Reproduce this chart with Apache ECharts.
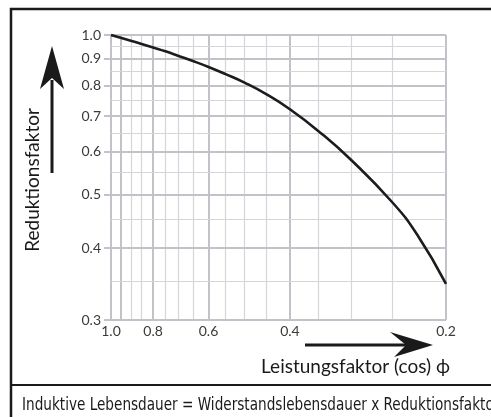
<!DOCTYPE html>
<html>
<head>
<meta charset="utf-8">
<script src="https://cdn.jsdelivr.net/npm/echarts@6/dist/echarts.min.js"></script>
<style>
  html, body { margin: 0; padding: 0; background: #fff; }
  #chart { width: 491px; height: 417px; }
</style>
</head>
<body>
<div id="chart"></div>
<script>
// Leistungsfaktor (cos phi) and Reduktionsfaktor
const cosPhi = [1.0, 0.95, 0.9, 0.85, 0.8, 0.75, 0.7, 0.65, 0.6, 0.55, 0.5, 0.45, 0.4, 0.35, 0.3, 0.25, 0.225, 0.2];
const reduktion = [1.0, 0.988, 0.975, 0.961, 0.946, 0.93, 0.911, 0.891, 0.868, 0.841, 0.81, 0.771, 0.721, 0.657, 0.579, 0.484, 0.423, 0.346];

// grid lines and labels
const xGrid = [1.0, 0.95, 0.9, 0.85, 0.8, 0.75, 0.7, 0.65, 0.6, 0.55, 0.5, 0.45, 0.4, 0.35, 0.3, 0.25, 0.2];
const xMajor = [1.0, 0.95, 0.8, 0.6, 0.4, 0.2];
const xLabels = ['1.0', '0.8', '0.6', '0.4', '0.2'];
const yGrid = [1.0, 0.95, 0.9, 0.85, 0.8, 0.75, 0.7, 0.65, 0.6, 0.55, 0.5, 0.45, 0.4, 0.35, 0.3];
const yLabels = ['1.0', '0.9', '0.8', '0.7', '0.6', '0.5', '0.4', '0.3'];

// the printed paper uses offset log scales
const XS = 0.06;
const YS = 0.05;

const chart = echarts.init(document.getElementById('chart'), null, { renderer: 'canvas' });

const minorLine = { color: '#d6d6da', width: 1.2, type: 'solid' };
const majorLine = { color: '#c2c2c8', width: 2, type: 'solid' };
const labelFont = { fontFamily: 'Lato', fontSize: 14, color: '#3a3a3a' };

function isLabelled(v, list) {
    return list.includes(v.toFixed(1)) && Math.abs(v * 10 - Math.round(v * 10)) < 1e-9;
}

const gridLines = [];
xGrid.forEach(v => {
    const lab = isLabelled(v, xLabels);
    gridLines.push({
        xAxis: v - XS,
        lineStyle: xMajor.includes(v) ? majorLine : minorLine,
        label: lab ? Object.assign({ show: true, position: 'start', distance: 4, formatter: v.toFixed(1) }, labelFont) : { show: false }
    });
});
yGrid.forEach(v => {
    const lab = isLabelled(v, yLabels);
    gridLines.push({
        yAxis: v - YS,
        lineStyle: lab ? majorLine : minorLine,
        // x axis is inverted, so the line "end" is on the left
        label: lab ? Object.assign({ show: true, position: 'end', distance: 10, formatter: v.toFixed(1) }, labelFont) : { show: false }
    });
});

const option = {
    animation: false,
    backgroundColor: '#fff',
    grid: { left: 111, top: 35, right: 45, bottom: 97 },
    xAxis: {
        type: 'log',
        inverse: true,
        min: 0.2 - XS,
        max: 1.0 - XS,
        axisLine: { show: false },
        axisTick: { show: false },
        axisLabel: { show: false },
        splitLine: { show: false }
    },
    yAxis: {
        type: 'log',
        min: 0.3 - YS,
        max: 1.0 - YS,
        axisLine: { show: false },
        axisTick: {
            show: true,
            length: 7,
            customValues: yLabels.map(t => Number(t) - YS),
            lineStyle: { color: '#c2c2c8', width: 2 }
        },
        axisLabel: { show: false },
        splitLine: { show: false }
    },
    series: [
        {
            type: 'line',
            z: 1,
            data: [],
            markLine: {
                silent: true,
                symbol: 'none',
                animation: false,
                data: gridLines
            }
        },
        {
            type: 'line',
            z: 5,
            smooth: 0.5,
            symbol: 'none',
            lineStyle: { color: '#1c1c1c', width: 2.6 },
            data: cosPhi.map((c, i) => [c - XS, reduktion[i] - YS])
        }
    ],
    graphic: [
        {
            type: 'rect',
            shape: { x: 11, y: 9, width: 520, height: 450 },
            style: { fill: 'none', stroke: '#1a1a1a', lineWidth: 2.5 }
        },
        {
            type: 'line',
            shape: { x1: 11, y1: 385, x2: 491, y2: 385 },
            style: { stroke: '#1a1a1a', lineWidth: 2 }
        },
        {
            type: 'text',
            x: 22, y: 406,
            scaleX: 0.89,
            style: {
                text: 'Induktive Lebensdauer = Widerstandslebensdauer x Reduktionsfaktor',
                fontFamily: '"DejaVu Sans Condensed", sans-serif',
                fontSize: 17, fill: '#1a1a1a', verticalAlign: 'middle', align: 'left'
            }
        },
        {
            type: 'text',
            x: 33, y: 180,
            rotation: Math.PI / 2,
            style: {
                text: 'Reduktionsfaktor',
                fontFamily: 'Lato', fontSize: 19, fill: '#1a1a1a',
                align: 'center', verticalAlign: 'middle'
            }
        },
        {
            type: 'text',
            x: 450, y: 367,
            style: {
                text: 'Leistungsfaktor (cos) ϕ',
                fontFamily: 'Lato', fontSize: 19, fill: '#1a1a1a',
                align: 'right', verticalAlign: 'middle'
            }
        },
        // up arrow
        {
            type: 'line',
            shape: { x1: 52, y1: 173, x2: 52, y2: 80 },
            style: { stroke: '#1a1a1a', lineWidth: 3 }
        },
        {
            type: 'polygon',
            shape: { points: [[52, 46], [64, 89], [52, 78], [40, 89]] },
            style: { fill: '#1a1a1a' }
        },
        // right arrow
        {
            type: 'line',
            shape: { x1: 305, y1: 345, x2: 410, y2: 345 },
            style: { stroke: '#1a1a1a', lineWidth: 3 }
        },
        {
            type: 'polygon',
            shape: { points: [[433, 345], [390, 332], [406, 345], [394, 357]] },
            style: { fill: '#1a1a1a' }
        }
    ]
};

chart.setOption(option);
</script>
</body>
</html>
